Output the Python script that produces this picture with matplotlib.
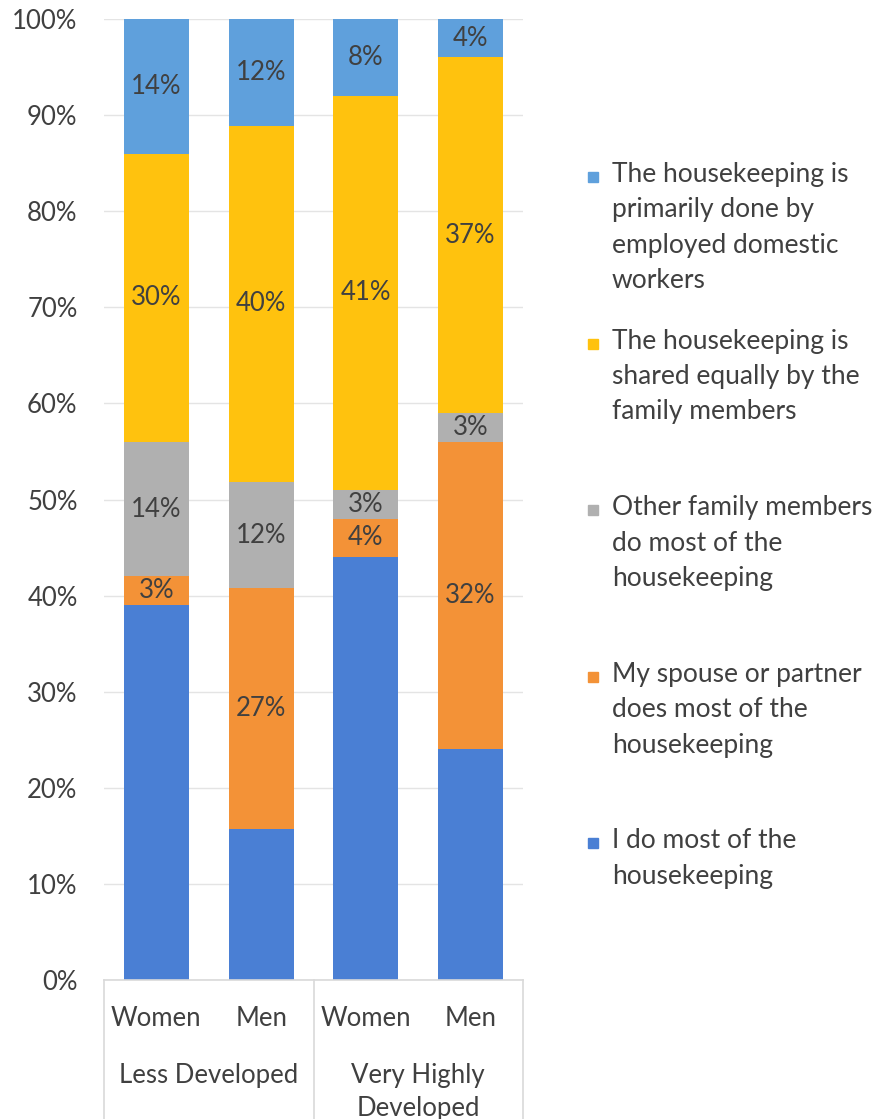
import matplotlib.pyplot as plt
import matplotlib.transforms as mtransforms
from matplotlib.patches import Rectangle
import numpy as np

plt.rcParams["font.family"] = ["Lato", "DejaVu Sans"]

# ----- data -----
groups = ["Less Developed", "Very Highly\nDeveloped"]
sexes = ["Women", "Men", "Women", "Men"]
i_do_most = [39, 17, 44, 24]
spouse_does_most = [3, 27, 4, 32]
other_family = [14, 12, 3, 3]
shared_equally = [30, 40, 41, 37]
domestic_workers = [14, 12, 8, 4]

series_names = [
    "I do most of the\nhousekeeping",
    "My spouse or partner\ndoes most of the\nhousekeeping",
    "Other family members\ndo most of the\nhousekeeping",
    "The housekeeping is\nshared equally by the\nfamily members",
    "The housekeeping is\nprimarily done by\nemployed domestic\nworkers",
]
series_values = [i_do_most, spouse_does_most, other_family, shared_equally, domestic_workers]
series_colors = ["#4a7fd4", "#f39237", "#b0b0b0", "#ffc20e", "#5fa0dc"]
show_labels = [False, True, True, True, True]

TEXT = "#404040"
FS = 18.5

W, H = 889, 1119
fig = plt.figure(figsize=(W / 100, H / 100), dpi=100)
fig.patch.set_facecolor("white")

left, right, top, bottom = 104, 523, 19, 980
ax = fig.add_axes([left / W, 1 - bottom / H, (right - left) / W, (bottom - top) / H])

vals = np.array(series_values, dtype=float)
totals = vals.sum(axis=0)
shares = vals / totals * 100  # 100% stacked
x = np.arange(len(sexes))
width = 0.62

base = np.zeros(len(sexes))
for name, share, raw, color, lab in zip(series_names, shares, vals, series_colors, show_labels):
    bars = ax.bar(x, share, width=width, bottom=base, color=color, zorder=2, linewidth=0)
    if lab:
        ax.bar_label(bars, labels=[f"{v:.0f}%" for v in raw], label_type="center",
                     fontsize=FS, color=TEXT)
    base += share

ax.set_xlim(-0.5, len(sexes) - 0.5)
ax.set_ylim(0, 100)
ax.set_yticks(np.arange(0, 101, 10))
ax.set_yticklabels([f"{t}%" for t in range(0, 101, 10)])
ax.tick_params(axis="y", length=0, pad=19, labelsize=FS, labelcolor=TEXT)
ax.grid(axis="y", color="#e4e4e4", linewidth=1, zorder=0)
ax.set_axisbelow(True)

for side in ["left", "right", "top"]:
    ax.spines[side].set_visible(False)
ax.spines["bottom"].set_color("#d9d9d9")
ax.spines["bottom"].set_linewidth(1.2)

ax.set_xticks(x)
ax.set_xticklabels(sexes)
ax.tick_params(axis="x", length=0, pad=19, labelsize=FS, labelcolor=TEXT)

# group separators and group labels below the category axis
trans = mtransforms.blended_transform_factory(ax.transData, ax.transAxes)
drop = (H - bottom) / (bottom - top)
for xs in [-0.5, 1.5, 3.5]:
    ax.plot([xs, xs], [0, -drop], transform=trans, color="#d9d9d9", lw=1.2, clip_on=False)
for i, g in enumerate(groups):
    ax.text(2 * i + 0.5, -0.086, g, transform=trans, ha="center", va="top",
            fontsize=FS, color=TEXT, linespacing=1.4)

# legend, entries spaced evenly like the original
y0, step = 177, 166.6
for k, (name, color) in enumerate(zip(series_names[::-1], series_colors[::-1])):
    yc = y0 + k * step
    fig.patches.append(Rectangle((588 / W, 1 - (yc + 5) / H), 10 / W, 10 / H,
                                 transform=fig.transFigure, color=color))
    fig.text(612 / W, 1 - (yc - 15) / H, name, ha="left", va="top",
             fontsize=19, color=TEXT, linespacing=1.52)

fig.savefig("out.png", dpi=100)
